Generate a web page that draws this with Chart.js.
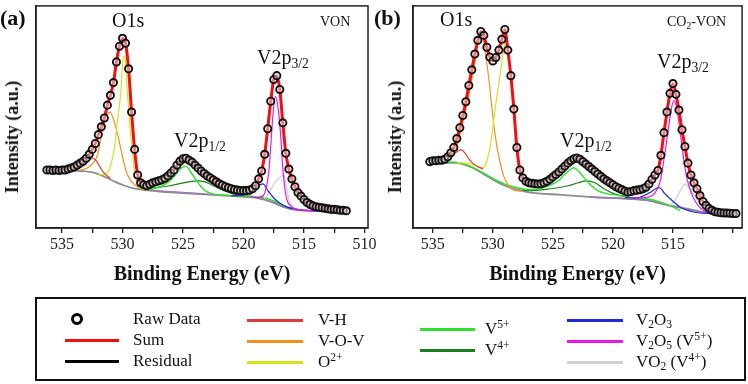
<!DOCTYPE html>
<html>
<head>
<meta charset="utf-8">
<script src="https://cdn.jsdelivr.net/npm/chart.js@4.4.0/dist/chart.umd.min.js"></script>
<style>
  body { margin: 0; background: #fff; width: 748px; height: 384px; overflow: hidden; position: relative;
         font-family: "Liberation Serif", "Times New Roman", serif; color: #111; }
  canvas { position: absolute; top: 0; }
  #chartA { left: 0; }
  #chartB { left: 376px; }
  .t { position: absolute; white-space: nowrap; line-height: 1; }
  .big { font-size: 20px; }
  .tag { font-size: 22px; font-weight: bold; }
  .small { font-size: 14px; }
  .ytitle { position: absolute; white-space: nowrap; font-weight: bold; font-size: 18px; line-height: 1;
            transform: translate(-50%, -50%) rotate(-90deg); }
  sub { font-size: 0.68em; vertical-align: -0.3em; line-height: 0; }
  sup { font-size: 0.68em; vertical-align: 0.55em; line-height: 0; }
  #legend { position: absolute; left: 35px; top: 297px; width: 707px; height: 80px; border: 2px solid #111; }
  .lg { position: absolute; height: 20px; line-height: 20px; font-size: 17px; white-space: nowrap; }
  .ln { position: absolute; height: 3px; }
  .mk { position: absolute; width: 6px; height: 6px; border: 3px solid #000; border-radius: 50%; }
</style>
</head>
<body>
<canvas id="chartA" width="382" height="300"></canvas>
<canvas id="chartB" width="372" height="300"></canvas>

<div class="t tag" style="left:0px;top:7px">(a)</div>
<div class="t big" style="left:112px;top:10px">O1s</div>
<div class="t small" style="left:320px;top:15px">VON</div>
<div class="t big" style="left:174px;top:130px">V2p<sub>1/2</sub></div>
<div class="t big" style="left:257px;top:47px">V2p<sub>3/2</sub></div>
<div class="ytitle" style="left:12px;top:137px">Intensity (a.u.)</div>

<div class="t tag" style="left:374px;top:7px">(b)</div>
<div class="t big" style="left:440px;top:9px">O1s</div>
<div class="t small" style="left:667px;top:15px">CO<sub>2</sub>-VON</div>
<div class="t big" style="left:560px;top:130px">V2p<sub>1/2</sub></div>
<div class="t big" style="left:657px;top:51px">V2p<sub>3/2</sub></div>
<div class="ytitle" style="left:395px;top:137px">Intensity (a.u.)</div>

<div id="legend"></div>
<div class="mk" style="left:71px;top:313px"></div>
<div class="lg" style="left:133px;top:309px">Raw Data</div>
<div class="ln" style="left:65px;top:339px;width:54px;background:#f01010"></div>
<div class="lg" style="left:133px;top:330px">Sum</div>
<div class="ln" style="left:65px;top:360px;width:54px;background:#000"></div>
<div class="lg" style="left:133px;top:351px">Residual</div>

<div class="ln" style="left:247px;top:319px;width:56px;background:#e23a3a"></div>
<div class="lg" style="left:318px;top:310px">V-H</div>
<div class="ln" style="left:247px;top:340px;width:56px;background:#f39020"></div>
<div class="lg" style="left:318px;top:331px">V-O-V</div>
<div class="ln" style="left:247px;top:361px;width:56px;background:#d4e21c"></div>
<div class="lg" style="left:318px;top:352px">O<sup>2+</sup></div>

<div class="ln" style="left:420px;top:328px;width:55px;background:#2ee02e"></div>
<div class="lg" style="left:485px;top:319px">V<sup>5+</sup></div>
<div class="ln" style="left:420px;top:349px;width:55px;background:#1d7d1d"></div>
<div class="lg" style="left:485px;top:340px">V<sup>4+</sup></div>

<div class="ln" style="left:567px;top:319px;width:56px;background:#1f2bd6"></div>
<div class="lg" style="left:636px;top:310px">V<sub>2</sub>O<sub>3</sub></div>
<div class="ln" style="left:567px;top:340px;width:56px;background:#e619e6"></div>
<div class="lg" style="left:636px;top:331px">V<sub>2</sub>O<sub>5</sub> (V<sup>5+</sup>)</div>
<div class="ln" style="left:567px;top:361px;width:56px;background:#cfcfcf"></div>
<div class="lg" style="left:636px;top:352px">VO<sub>2</sub> (V<sup>4+</sup>)</div>

<script>
// raw spectra, 0.25 eV steps, intensity in a.u.
const startA = 536.25;
const rawA = [
  59, 59, 58.5, 59, 58.5, 59, 59, 60, 61, 62,
  64, 66, 68, 71, 75, 80, 86, 95, 103, 112,
  125, 135, 148, 169, 185, 193, 188, 162, 118, 80,
  54, 46, 44, 43, 44.5, 46, 47, 48, 49, 50.5,
  53, 56, 59, 64, 68, 70.5, 71, 69, 67, 64,
  61, 58, 55.5, 53, 51, 49, 47, 45, 43.5, 42,
  41, 40, 39, 38.5, 38, 38, 38, 38.5, 40, 43,
  50, 58, 75, 101, 129, 151, 155, 141, 107, 76,
  60, 50, 42, 36, 32.5, 29, 26, 24, 22.5, 21.5,
  21, 20.5, 20, 19.5, 19, 19, 18.5, 18, 18, 17.5
];
const startB = 535.25;
const rawB = [
  67.5, 68.5, 68.5, 69, 69, 70, 72.5, 76.5, 82, 91,
  102, 114.5, 128.5, 145, 161, 177, 191, 200, 196, 184,
  174, 170, 173.5, 181, 192, 202, 181, 155, 121, 82,
  59, 51, 47.5, 46, 45.5, 45, 44.7, 45, 46, 47.5,
  49.5, 52, 54.5, 57, 60, 63, 66, 68.5, 70.5, 71.3,
  70, 67.5, 65, 62.5, 60, 57.5, 55, 52.5, 50, 48,
  46, 44, 42, 40.5, 39, 37.5, 36.5, 37, 38, 38.5,
  39, 40, 41.5, 44.7, 49.5, 54, 58.5, 74, 97, 118,
  137, 147, 136, 120, 100, 83, 66, 54, 46, 40,
  33, 27, 23, 20, 18, 16.5, 16, 15.5, 15.3, 15.2,
  15, 14.8, 14.7
];

// fitted components, [binding energy, intensity]
const bgA = [[536.25,59],[535,59],[533.5,58],[532.3,56],[531.45,52],[530.6,47],[529.8,43],[528.97,40],[528.1,38.5],[526.9,37],[523.6,34.5],[520.3,32],[519.05,31],[518.2,28.5],[517.4,25],[516.6,21],[515.74,18.5],[514.5,17.5],[511.5,17]];
const baseA = [[528.3,39],[526,37],[523,34.5],[520,32],[518.5,30],[517.5,26],[516.5,21],[515.5,18.5],[514,17.5]];
const vhA = [[534.2,58.5],[533.6,60.5],[533.0,66],[532.7,69.5],[532.44,71],[532.15,68],[531.85,62],[531.6,57],[531.36,54],[531.0,50.5]];
const vovA = [[534.5,59],[533.5,59],[533.0,60.5],[532.5,65],[532.05,75],[531.64,101],[531.36,113],[531.03,118],[530.76,111],[530.4,95],[530.04,75],[529.71,58],[529.3,48],[528.88,43],[528.4,39.5],[527.9,38.5]];
const o2A = [[532.0,54],[531.36,55],[530.95,65],[530.68,81],[530.4,111],[530.12,141],[530.0,166],[529.85,175],[529.75,168],[529.65,148],[529.44,111],[529.21,81],[529.02,58],[528.74,45],[528.55,40.5],[528.2,39]];
const v5A = [[528.6,40.5],[527.9,39.5],[527.17,41],[526.5,44.5],[526.07,48],[525.7,53],[525.39,58],[525.1,61.5],[524.83,63],[524.6,61.5],[524.42,58],[523.87,48],[523.5,42],[523.18,38],[522.52,34.7],[521.39,33],[520.5,32.5],[519.5,32.3],[518.8,31.5],[518.2,30.5],[517.4,27],[516.8,23.5],[516.0,20],[515.0,18]];
const v4A = [[528.6,40],[528.2,39],[527.73,40],[526.9,41.5],[526.07,43],[524.97,46],[524.3,47.5],[523.74,48],[523.2,47],[522.77,44.7],[521.94,39.7],[520.84,34.7],[520.0,33],[519.0,32]];
const v2o3A = [[521.0,33],[520.3,33],[519.7,35],[519.21,39],[518.8,43],[518.39,45],[517.98,38],[517.42,29.5],[516.88,24.5],[516.32,21],[515.77,19.5],[514.9,18],[514.0,17.5]];
const v2o5A = [[519.5,31.5],[518.8,31],[518.31,34],[518.12,41],[517.92,56],[517.75,83],[517.56,116],[517.37,134],[517.11,119],[516.92,93],[516.78,66],[516.61,43],[516.42,29],[516.14,23],[515.77,19.5],[515.0,18],[514.0,17.5]];
const vo2A = [[518.3,30],[517.98,34],[517.42,46],[516.88,53],[516.67,54],[516.45,42],[516.2,27],[515.9,21],[515.3,18.5],[514.5,17.5]];

const bgB = [[535.3,66.3],[533.1,66.3],[531.7,61.3],[530.3,51.3],[529,43],[527.6,38],[527.0,36.3],[524.3,33.7],[521.5,31.3],[518.8,29.7],[517.1,28],[515.5,23.5],[513.85,19.7],[512.5,16.3],[509.6,14]];
const baseB = [[522,31.5],[520,30.5],[518.5,29.5],[517,28],[515.5,23.5],[514,19.5],[512.5,16],[511,14.5]];
const vhB = [[534.6,67.5],[534.0,69.5],[533.5,73],[533.0,77.5],[532.67,79.7],[532.3,76],[531.98,70],[531.6,65],[531.2,62],[530.8,60]];
const vovB = [[535.3,66.5],[534.2,67],[533.63,69.7],[533.08,79.7],[532.53,106],[531.98,136],[531.44,173],[531.16,193],[531.0,197],[530.8,192],[530.56,173],[530.28,146],[530.06,120],[529.79,93],[529.46,70],[529.1,53],[528.69,43],[528.14,38],[527.5,37.5]];
const o2B = [[533.0,66.5],[532.0,65.5],[531.4,63.5],[530.88,61.3],[530.61,64.7],[530.33,76.3],[530.06,96.3],[529.79,123],[529.51,146.3],[529.24,169.7],[529.05,185],[528.95,190],[528.8,186],[528.56,161.3],[528.28,124.7],[528.09,94.7],[527.92,71.3],[527.73,58],[527.45,49.7],[527.04,44.7],[526.5,41.5]];
const v5B = [[535.3,67.5],[533.1,67],[531.7,62],[530.3,52.5],[529,44.5],[527.6,40],[527.02,39],[526.2,39.5],[525.37,43],[524.9,45.5],[524.55,48],[524.0,54.7],[523.6,59],[523.31,61.3],[523.0,59.5],[522.63,54.7],[521.94,44.7],[521.26,38],[520.43,34.7],[519.34,33],[518.79,31.3],[517.14,29.7],[516.05,26.3],[515.22,22.5],[514.4,18]];
const v4B = [[527.6,38.5],[527.02,38],[525.37,39.7],[523.72,43],[522.9,46],[522.22,48],[521.53,46.3],[520.7,39.7],[519.88,34.7],[518.79,31.3],[518,30]];
const v2o3B = [[519,31],[518,30.5],[517.41,33],[516.87,36.3],[516.5,39.5],[516.18,41],[515.95,39.5],[515.77,36.3],[515.22,29.7],[514.4,21.3],[513.3,16.3],[511.9,14.7],[510.5,14.3]];
const v2o5B = [[518.5,30.5],[517.14,31.3],[516.46,36.3],[516.05,48],[515.77,68],[515.49,91.3],[515.22,114.7],[514.94,129.7],[514.67,121.3],[514.4,98],[514.12,71.3],[513.85,51.3],[513.44,34.7],[513.02,24.7],[512.47,18],[511.65,15.3],[510.5,14.5]];
const vo2B = [[515.3,23],[515.08,25],[514.67,31.3],[514.3,40],[513.99,44.7],[513.7,42],[513.3,34.7],[512.61,23],[511.93,18],[511.2,16]];

const colors = {
  sum: "#f01010", vh: "#e23a3a", vov: "#f39020", o2: "#d4e21c", v5: "#2ee02e",
  v4: "#1d7d1d", v2o3: "#1f2bd6", v2o5: "#e619e6", vo2: "#cfcfcf", bg: "#8e8e8e", base: "#9c78b4"
};

const fromGrid = (start, vals) => vals.map((v, i) => ({ x: +(start - i * 0.25).toFixed(2), y: v }));
const fromPairs = (arr) => arr.map(([x, y]) => ({ x, y }));

function line(data, color, width) {
  return { data, borderColor: color, borderWidth: width, pointRadius: 0, fill: false,
           cubicInterpolationMode: "monotone" };
}

const boxPlugin = {
  id: "box",
  afterDraw(chart) {
    const { ctx, chartArea: a } = chart;
    ctx.save();
    ctx.strokeStyle = "#222";
    ctx.lineWidth = 1.5;
    ctx.strokeRect(a.left, a.top, a.right - a.left, a.bottom - a.top);
    ctx.restore();
  }
};

function makePanel(id, start, raw, comps, xmin, xmax, padRight, yWidth, hide510) {
  const pts = fromGrid(start, raw);
  const datasets = [
    { data: pts, showLine: false, pointRadius: 3.6, pointBorderWidth: 1.9,
      pointBorderColor: "#111", pointBackgroundColor: "rgba(255,255,255,0.45)" },
    line(pts, colors.sum, 3),
    line(fromPairs(comps.vh), colors.vh, 1.2),
    line(fromPairs(comps.o2), colors.o2, 1.2),
    line(fromPairs(comps.vov), colors.vov, 1.2),
    line(fromPairs(comps.v2o5), colors.v2o5, 1.2),
    line(fromPairs(comps.v2o3), colors.v2o3, 1.2),
    line(fromPairs(comps.vo2), colors.vo2, 1.2),
    line(fromPairs(comps.v5), colors.v5, 1.4),
    line(fromPairs(comps.v4), colors.v4, 1.2),
    line(fromPairs(comps.base), colors.base, 1.4),
    line(fromPairs(comps.bg), colors.bg, 1.8)
  ];

  new Chart(document.getElementById(id), {
    type: "line",
    data: { datasets },
    options: {
      responsive: false,
      animation: false,
      events: [],
      layout: { padding: { top: 2, right: padRight, left: 0, bottom: 0 } },
      plugins: { legend: { display: false }, tooltip: { enabled: false } },
      scales: {
        x: {
          type: "linear", reverse: true, min: xmin, max: xmax,
          grid: { drawOnChartArea: false, drawTicks: true, tickLength: 5, color: "#222", lineWidth: 1.3 },
          border: { display: true, color: "#222", width: 1.5 },
          ticks: {
            stepSize: 2.5, includeBounds: false, autoSkip: false, maxTicksLimit: 30, maxRotation: 0,
            padding: 2, color: "#222",
            font: { family: "Liberation Serif", size: 16 },
            callback: (v) => (v % 5 === 0 && !(hide510 && v === 510) ? String(v) : "")
          },
          title: {
            display: true, text: "Binding Energy (eV)", color: "#111",
            font: { family: "Liberation Serif", size: 20, weight: "bold" },
            padding: { top: 0, bottom: 13 }
          },
          afterFit: (s) => { s.height = 72; s.paddingLeft = 0; s.paddingRight = 0; }
        },
        y: {
          min: 0, max: 226,
          grid: { display: false },
          border: { display: true, color: "#222", width: 1.5 },
          ticks: { display: false },
          afterFit: (s) => { s.width = yWidth; }
        }
      }
    },
    plugins: [boxPlugin]
  });
}

makePanel("chartA", startA, rawA,
  { bg: bgA, base: baseA, vh: vhA, vov: vovA, o2: o2A, v5: v5A, v4: v4A, v2o3: v2o3A, v2o5: v2o5A, vo2: vo2A },
  509.71, 537.15, 14, 36, false);
makePanel("chartB", startB, rawB,
  { bg: bgB, base: baseB, vh: vhB, vov: vovB, o2: o2B, v5: v5B, v4: v4B, v2o3: v2o3B, v2o5: v2o5B, vo2: vo2B },
  509.24, 536.65, 2, 37, true);
</script>
</body>
</html>
